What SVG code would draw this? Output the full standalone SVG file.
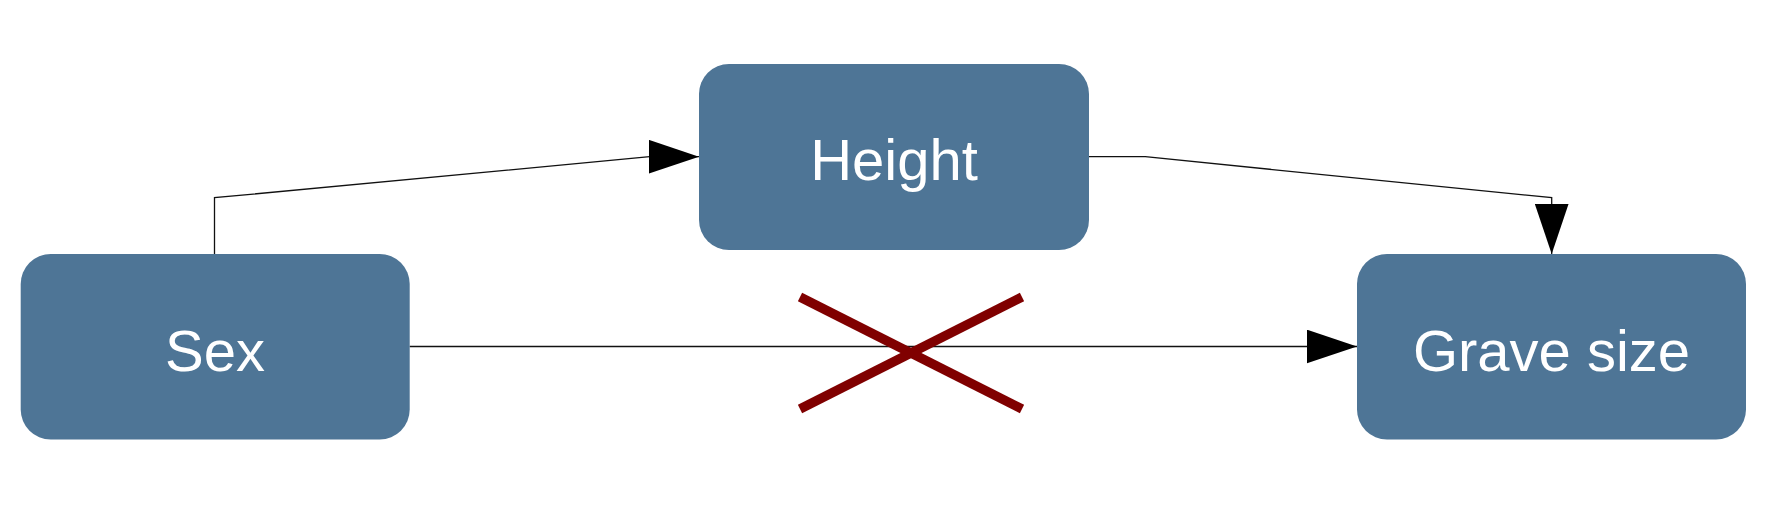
<svg xmlns="http://www.w3.org/2000/svg" width="1772" height="525" viewBox="0 0 1772 525">
<style>
.node rect{fill:#4e7596;}
.node text{fill:#ffffff;font-family:"Liberation Sans",Arial,sans-serif;font-size:58px;text-anchor:middle;}
.edge{fill:none;stroke:#111111;stroke-width:1.3;}
.cross{stroke:#800000;stroke-width:9.5;fill:none;}
</style>
<defs>
<marker id="arr" markerUnits="userSpaceOnUse" markerWidth="50" markerHeight="34" refX="49" refY="16.5" orient="auto" viewBox="0 0 49 33">
<path d="M0,0 L49,16.5 L0,33 z" fill="#000000"/>
</marker>
</defs>
<rect width="1772" height="525" fill="#ffffff"/>
<g id="connectors">
<path class="edge" d="M214.5,254 V197.7 L649.7,156.7 H699" marker-end="url(#arr)"/>
<path class="edge" d="M1089,156.7 H1145.3 L1551.7,197.7 V254" marker-end="url(#arr)"/>
<path class="edge" d="M409.6,346.5 H1357" marker-end="url(#arr)"/>
</g>
<g id="node-sex" class="node">
<rect x="20.7" y="254" width="389" height="185.5" rx="30" ry="30"/>
<text x="215" y="370.7">Sex</text>
</g>
<g id="node-height" class="node">
<rect x="699" y="64" width="390" height="186" rx="30" ry="30"/>
<text x="894" y="180">Height</text>
</g>
<g id="node-grave" class="node">
<rect x="1357" y="254" width="389" height="185.5" rx="30" ry="30"/>
<text x="1551.5" y="370.7">Grave size</text>
</g>
<g id="cross">
<line class="cross" x1="800" y1="297" x2="1022" y2="409"/>
<line class="cross" x1="800" y1="409" x2="1022" y2="297"/>
</g>
</svg>
